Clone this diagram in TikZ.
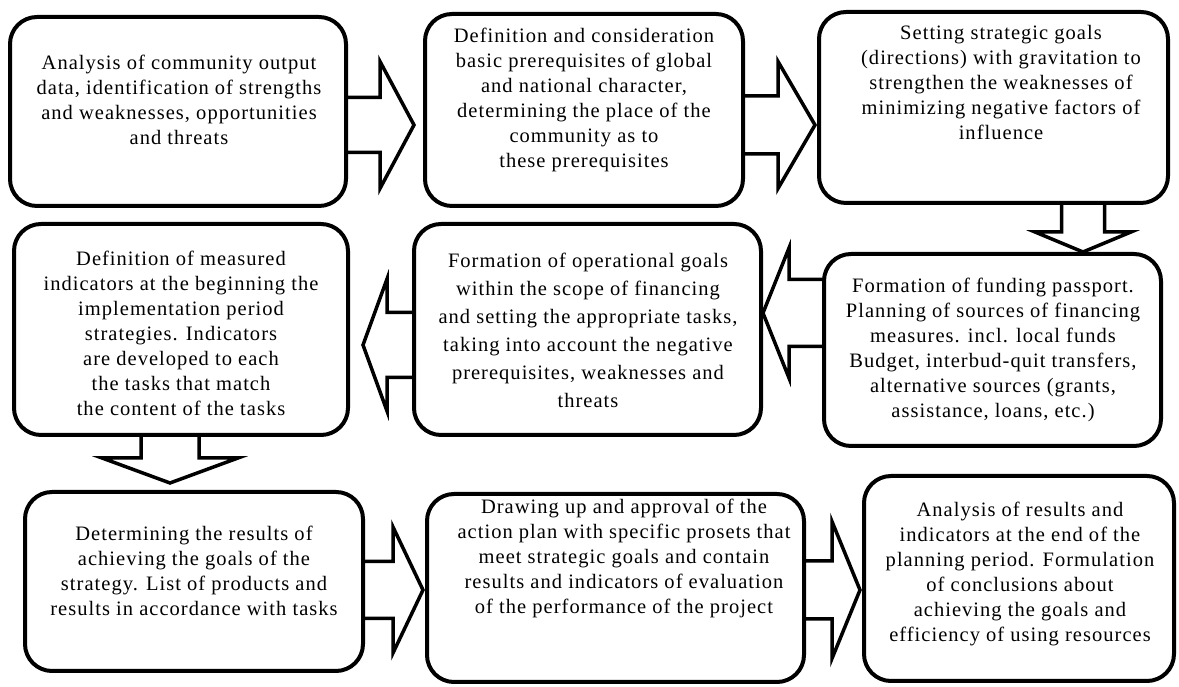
\documentclass[tikz,border=0pt]{standalone}
\usepackage{fontspec}
\setmainfont{Liberation Serif}[LetterSpace=5]
\usetikzlibrary{calc,backgrounds}
\tikzset{
  box/.style={draw=black, line width=4pt, fill=white, rounded corners=27pt, inner sep=0pt},
  txt/.style={align=center, inner sep=0pt, font=\fontsize{20.5}{25}\selectfont},
  barrow/.style={draw=black, line width=3.5pt, fill=white, line join=miter}
}
% right-pointing block arrow: from, to, yc, shaft half, head half, head length, gap
\newcommand\arrowR[7]{%
\draw[barrow] let \p1=(#1.east), \p2=(#2.west) in
 (\x1-8pt, #3pt+#4pt) -- (\x2-#7pt-#6pt, #3pt+#4pt) -- (\x2-#7pt-#6pt, #3pt+#5pt)
 -- (\x2-#7pt, #3pt) -- (\x2-#7pt-#6pt, #3pt-#5pt) -- (\x2-#7pt-#6pt, #3pt-#4pt)
 -- (\x1-8pt, #3pt-#4pt);}
% left-pointing block arrow
\newcommand\arrowL[7]{%
\draw[barrow] let \p1=(#1.west), \p2=(#2.east) in
 (\x1+8pt, #3pt+#4pt) -- (\x2+#7pt+#6pt, #3pt+#4pt) -- (\x2+#7pt+#6pt, #3pt+#5pt)
 -- (\x2+#7pt, #3pt) -- (\x2+#7pt+#6pt, #3pt-#5pt) -- (\x2+#7pt+#6pt, #3pt-#4pt)
 -- (\x1+8pt, #3pt-#4pt);}
% down-pointing block arrow: from, to, xc, shaft half, head half, head length, gap
\newcommand\arrowD[7]{%
\draw[barrow] let \p1=(#1.south), \p2=(#2.north) in
 (#3pt-#4pt, \y1+8pt) -- (#3pt-#4pt, \y2+#7pt+#6pt) -- (#3pt-#5pt, \y2+#7pt+#6pt)
 -- (#3pt, \y2+#7pt) -- (#3pt+#5pt, \y2+#7pt+#6pt) -- (#3pt+#4pt, \y2+#7pt+#6pt)
 -- (#3pt+#4pt, \y1+8pt);}
\begin{document}
\begin{tikzpicture}[x=1pt,y=1pt]
\useasboundingbox (0,0) rectangle (1179,687);
% boxes
\node[box, minimum width=336, minimum height=189] (A) at (178,575.5) {};
\node[box, minimum width=318, minimum height=192] (B) at (584,577) {};
\node[box, minimum width=349, minimum height=191] (C) at (993.5,579.5) {};
\node[box, minimum width=337, minimum height=192] (D) at (992.5,337) {};
\node[box, minimum width=347, minimum height=211] (E) at (587.5,357.5) {};
\node[box, minimum width=334, minimum height=211] (F) at (181,357.5) {};
\node[box, minimum width=338, minimum height=179] (G) at (194,105.5) {};
\node[box, minimum width=377, minimum height=188] (H) at (615.5,99) {};
\node[box, minimum width=310, minimum height=205] (I) at (1019,108.5) {};
% texts
\node[txt] (tA) at (179,587) {Analysis of community output\\ data, identification of strengths\\ and weaknesses, opportunities\\ and threats};
\node[txt] (tB) at (584,587) {Definition and consideration\\ basic prerequisites of global\\ and national character,\\ determining the place of the\\ community as to\\ these prerequisites};
\node[txt] (tC) at (1001,605) {Setting strategic goals\\ (directions) with gravitation to\\ strengthen the weaknesses of\\ minimizing negative factors of\\ influence};
\node[txt] (tD) at (993,337) {Formation of funding passport.\\ Planning of sources of financing\\ measures. incl. local funds\\ Budget, interbud-quit transfers,\\ alternative sources (grants,\\ assistance, loans, etc.)};
\node[txt, font=\fontsize{20.5}{28}\selectfont] (tE) at (588,357) {Formation of operational goals\\ within the scope of financing\\ and setting the appropriate tasks,\\ taking into account the negative\\ prerequisites, weaknesses and\\ threats};
\node[txt] (tF) at (181,354) {Definition of measured\\ indicators at the beginning the\\ implementation period\\ strategies. Indicators\\ are developed to each\\ the tasks that match\\ the content of the tasks};
\node[txt] (tG) at (194,116) {Determining the results of\\ achieving the goals of the\\ strategy. List of products and\\ results in accordance with tasks};
\node[txt] (tH) at (624,129) {Drawing up and approval of the\\ action plan with specific prosets that\\ meet strategic goals and contain\\ results and indicators of evaluation\\ of the performance of the project};
\node[txt] (tI) at (1020,113) {Analysis of results and\\ indicators at the end of the\\ planning period. Formulation\\ of conclusions about\\ achieving the goals and\\ efficiency of using resources};
% block arrows
\begin{pgfonlayer}{background}
\arrowR{A}{B}{562}{27.5}{63.5}{34}{9}
\arrowR{B}{C}{562}{29}{63.5}{37}{2}
\arrowD{C}{D}{1083}{21.5}{48}{20}{0}
\arrowL{D}{E}{374}{33.5}{65}{26}{0}
\arrowL{E}{F}{342}{32.5}{66}{24}{13}
\arrowD{F}{G}{170}{29}{68}{25}{7}
\arrowR{G}{H}{97}{28.5}{63}{30}{2}
\arrowR{H}{I}{97}{29}{68.5}{28}{2}
\end{pgfonlayer}
\end{tikzpicture}
\end{document}
